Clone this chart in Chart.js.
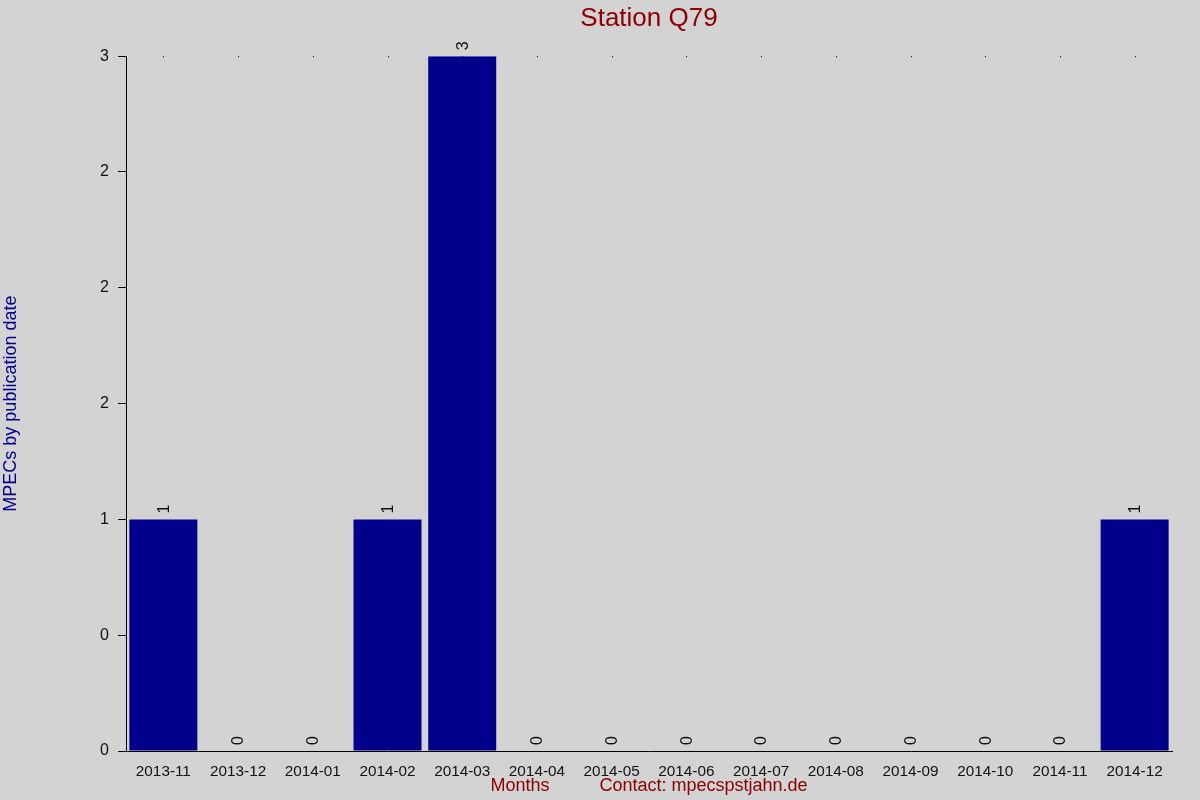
<!DOCTYPE html>
<html lang="en">
<head>
    <meta charset="UTF-8">
    <title>Station Q79</title>
    <style>
        body {
            margin: 0;
            background: #d3d3d3;
        }
        #mpecChart {
            display: block;
        }
    </style>
    <script src="https://cdn.jsdelivr.net/npm/chart.js"></script>
</head>
<body>
<canvas id="mpecChart" width="1200" height="800"></canvas>
<script>
    const months = ['2013-11', '2013-12', '2014-01', '2014-02', '2014-03', '2014-04', '2014-05',
        '2014-06', '2014-07', '2014-08', '2014-09', '2014-10', '2014-11', '2014-12'];
    const mpecCounts = [1, 0, 0, 1, 3, 0, 0, 0, 0, 0, 0, 0, 0, 1];
    // tick labels as printed in the original (values rounded)
    const yTickLabels = ['0', '0', '1', '2', '2', '2', '3'];

    const fontFamily = '"Liberation Sans", Arial, sans-serif';

    // value labels above each bar, rotated
    const barLabels = {
        id: 'barLabels',
        afterDatasetsDraw(chart) {
            const ctx = chart.ctx;
            const meta = chart.getDatasetMeta(0);
            ctx.save();
            ctx.fillStyle = '#111';
            ctx.font = '16px ' + fontFamily;
            ctx.textAlign = 'left';
            ctx.textBaseline = 'middle';
            meta.data.forEach((bar, i) => {
                ctx.save();
                ctx.translate(bar.x + 1, bar.y - 6);
                ctx.rotate(-Math.PI / 2);
                ctx.fillText(String(mpecCounts[i]), 0, 0);
                ctx.restore();
            });
            ctx.restore();
        }
    };

    // little dots along the top edge at each month
    const topDots = {
        id: 'topDots',
        beforeDatasetsDraw(chart) {
            const ctx = chart.ctx;
            const xs = chart.scales.x;
            ctx.save();
            ctx.fillStyle = '#000';
            xs.ticks.forEach((t, i) => {
                ctx.fillRect(Math.round(xs.getPixelForTick(i)), chart.chartArea.top, 1, 1);
            });
            ctx.restore();
        }
    };

    new Chart(document.getElementById('mpecChart'), {
        type: 'bar',
        data: {
            labels: months,
            datasets: [{
                label: 'MPECs',
                data: mpecCounts,
                backgroundColor: '#00008b',
                borderWidth: 0,
                barPercentage: 0.91,
                categoryPercentage: 1
            }]
        },
        options: {
            responsive: false,
            animation: false,
            layout: {
                padding: {top: 0, right: 28, bottom: 0, left: 0}
            },
            plugins: {
                legend: {display: false},
                tooltip: {enabled: false},
                title: {
                    display: true,
                    fullSize: false,
                    text: 'Station Q79',
                    color: '#8b0000',
                    font: {family: fontFamily, size: 26, weight: 'normal'},
                    padding: {top: 3, bottom: 22}
                }
            },
            scales: {
                x: {
                    grid: {display: false},
                    border: {display: true, color: '#000', width: 1},
                    ticks: {
                        color: '#111',
                        font: {family: fontFamily, size: 15.3},
                        padding: 4,
                        maxRotation: 0,
                        autoSkip: false
                    },
                    title: {
                        display: true,
                        text: 'Months          Contact: mpecspstjahn.de',
                        color: '#8b0000',
                        font: {family: fontFamily, size: 18},
                        padding: {top: 0, bottom: 3}
                    },
                    afterFit(scale) {
                        scale.height = 49;
                    }
                },
                y: {
                    min: 0,
                    max: 3,
                    grid: {
                        display: true,
                        drawOnChartArea: false,
                        drawTicks: true,
                        tickLength: 8,
                        color: '#000'
                    },
                    border: {display: true, color: '#000', width: 1},
                    ticks: {
                        stepSize: 0.5,
                        color: '#111',
                        font: {family: fontFamily, size: 16},
                        padding: 9,
                        callback: (value, index) => yTickLabels[index]
                    },
                    title: {
                        display: true,
                        text: 'MPECs by publication date',
                        color: '#00008b',
                        font: {family: fontFamily, size: 18},
                        padding: {top: 0, bottom: 0}
                    },
                    afterFit(scale) {
                        scale.width = 126;
                    }
                }
            }
        },
        plugins: [barLabels, topDots]
    });
</script>
</body>
</html>
